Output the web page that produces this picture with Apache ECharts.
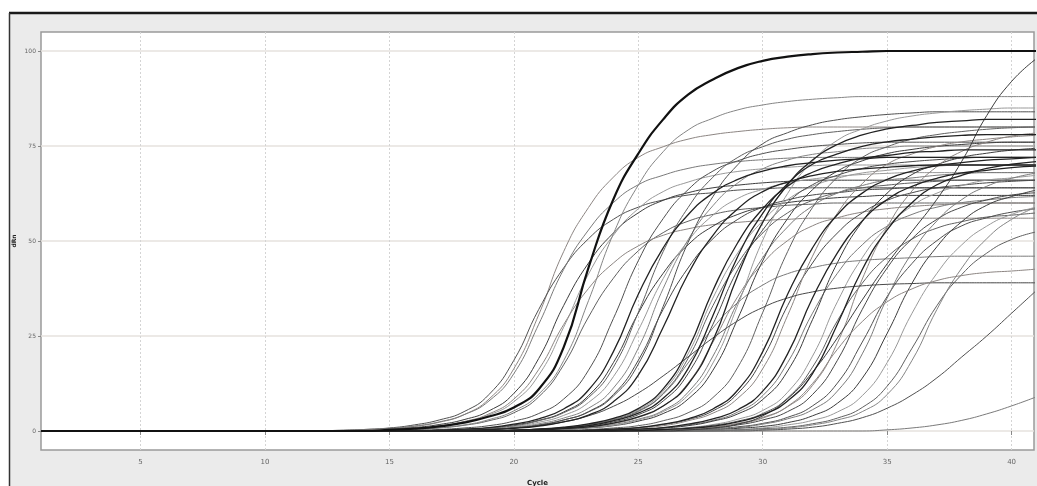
<!DOCTYPE html>
<html><head><meta charset="utf-8">
<script src="https://cdn.jsdelivr.net/npm/echarts@6/dist/echarts.min.js"></script>
<style>html,body{margin:0;padding:0;background:#fff}#c{width:1037px;height:486px}</style>
</head><body><div id="c"></div>
<script>
// ---- data ----
const cycles = [1,2,3,4,5,6,7,8,9,10,11,12,13,14,15,16,17,18,19,20,21,22,23,24,25,26,27,28,29,30,31,32,33,34,35,36,37,38,39,40,41];
const xTicks = [5,10,15,20,25,30,35,40];
const yTicks = [0,25,50,75,100];

const w01 = [0,0,0,0,0,0,0,0,0,0,0,0, 0.1,0.3,0.6,1.2,2.3,4.3,8.4,16.4,30.6,47.2,58.8,66.8,72,74.8,76.8,78,78.8,79.4,79.8,80, 80,80,80,80,80,80,80,80,80];
const w02 = [0,0,0,0,0,0,0,0,0,0,0,0, 0.2,0.4,0.8,1.6,2.9,5.1,9.6,18.6,32,42.9,50.6,55.7,58.9,60.8,62.1,62.7,63.4,63.7,64, 64,64,64,64,64,64,64,64,64,64];
const w03 = [0,0,0,0,0,0,0,0,0,0,0,0, 0.1,0.4,0.7,1.3,2.4,4.3,7.9,15.1,28.1,42.5,52.9,60.1,64.8,67.3,69.1,70.2,70.9,71.4,71.8,72, 72,72,72,72,72,72,72,72,72];
const w04 = [0,0,0,0,0,0,0,0,0,0,0,0,0, 0.2,0.5,0.9,1.7,3,5.3,9.9,19.1,33,44.2,52.1,57.4,60.7,62.7,64,64.7,65.3,65.7,66, 66,66,66,66,66,66,66,66,66];
const w05 = [0,0,0,0,0,0,0,0,0,0,0,0,0, 0.1,0.4,0.7,1.3,2.4,4.2,7.7,14.7,27.3,41.3,51.5,58.5,63,65.5,67.2,68.3,69,69.4,69.8,70, 70,70,70,70,70,70,70,70];
const w06 = [0,0,0,0,0,0,0,0,0,0,0,0,0,0, 0.2,0.4,0.8,1.5,2.7,4.8,9,17.4,30,40.2,47.4,52.2,55.2,57,58.2,58.8,59.4,59.7,60, 60,60,60,60,60,60,60,60];
const w07 = [0,0,0,0,0,0,0,0,0,0,0,0,0,0, 0.2,0.4,0.9,1.6,3,5.3,9.7,18.5,34.3,51.9,64.7,73.5,79.2,82.3,84.5,85.8,86.7,87.3,87.7,88, 88,88,88,88,88,88,88];
const w08 = [0,0,0,0,0,0,0,0,0,0,0,0,0,0, 0.3,0.6,1.2,2.2,3.8,6.2,11,22,43,61,73,82,88.5,92.5,95.5,97.4,98.5,99.2,99.6,99.8, 100,100,100,100,100,100,100];
const w09 = [0,0,0,0,0,0,0,0,0,0,0,0,0, 0.2,0.4,0.7,1.4,2.5,4.5,8.4,16.2,28,37.5,44.2,48.7,51.5,53.2,54.3,54.9,55.4,55.7,56, 56,56,56,56,56,56,56,56,56];
const w10 = [0,0,0,0,0,0,0,0,0,0,0,0,0,0,0, 0.2,0.4,0.8,1.4,2.6,4.6,8.4,16,29.6,44.8,55.9,63.5,68.4,71.1,73,74.1,74.9,75.4,75.8,76, 76,76,76,76,76,76];
const w11 = [0,0,0,0,0,0,0,0,0,0,0,0,0,0,0,0, 0.2,0.5,0.9,1.8,3.2,5.8,10.8,20.9,36,48.2,56.9,62.6,66.2,68.4,69.8,70.6,71.3,71.6,72, 72,72,72,72,72,72];
const w12 = [0,0,0,0,0,0,0,0,0,0,0,0,0,0,0,0, 0.2,0.4,0.8,1.6,2.8,5,9.3,18,31,41.5,49,53.9,57,58.9,60.1,60.8,61.4,61.7,62, 62,62,62,62,62,62];
const w13 = [0,0,0,0,0,0,0,0,0,0,0,0,0,0,0,0, 0.1,0.3,0.7,1.2,2.3,4.1,7.5,14.3,26.5,40.1,50,56.8,61.2,63.6,65.3,66.3,67,67.5,67.8,68, 68,68,68,68,68];
const w14 = [0,0,0,0,0,0,0,0,0,0,0,0,0,0,0,0, 0.2,0.4,0.8,1.4,2.7,4.8,8.8,16.8,31.2,47.2,58.8,66.8,72,74.8,76.8,78,78.8,79.4,79.8,80, 80,80,80,80,80];
const w15 = [0,0,0,0,0,0,0,0,0,0,0,0,0,0,0,0,0, 0.2,0.5,1,1.9,3.4,6,11.3,21.8,37.5,50.3,59.3,65.3,69,71.3,72.8,73.5,74.3,74.6,75, 75,75,75,75,75];
const w16 = [0,0,0,0,0,0,0,0,0,0,0,0,0,0,0,0,0, 0.2,0.4,0.8,1.6,2.9,5.1,9.6,18.6,32,42.9,50.6,55.7,58.9,60.8,62.1,62.7,63.4,63.7,64, 64,64,64,64,64];
const w17 = [0,0,0,0,0,0,0,0,0,0,0,0,0,0,0,0,0, 0.1,0.4,0.7,1.3,2.4,4.2,7.7,14.7,27.3,41.3,51.5,58.5,63,65.5,67.2,68.3,69,69.4,69.8,70, 70,70,70,70];
const w18 = [0,0,0,0,0,0,0,0,0,0,0,0,0,0,0,0,0, 0.2,0.4,0.8,1.5,2.9,5,9.2,17.6,32.8,49.6,61.7,70.1,75.6,78.5,80.6,81.9,82.7,83.3,83.7,84, 84,84,84,84];
const w19 = [0,0,0,0,0,0,0,0,0,0,0,0,0,0,0,0,0,0, 0.1,0.2,0.5,0.8,1.6,2.8,5.1,9.7,17.9,27.1,33.8,38.4,41.4,43,44.2,44.9,45.3,45.6,45.9,46, 46,46,46];
const w20 = [0,0,0,0,0,0,0,0,0,0,0,0,0,0,0,0,0,0,0, 0.2,0.5,1,1.9,3.3,5.9,11.1,21.5,37,49.6,58.5,64.4,68.1,70.3,71.8,72.5,73.3,73.6,74, 74,74,74];
const w21 = [0,0,0,0,0,0,0,0,0,0,0,0,0,0,0,0,0,0,0, 0.2,0.5,0.9,1.8,3.2,5.6,10.5,20.3,35,46.9,55.3,60.9,64.4,66.5,67.9,68.6,69.3,69.7,70, 70,70,70];
const w22 = [0,0,0,0,0,0,0,0,0,0,0,0,0,0,0,0,0,0,0, 0.2,0.5,0.9,1.7,3,5.3,9.9,19.1,33,44.2,52.1,57.4,60.7,62.7,64,64.7,65.3,65.7,66, 66,66,66];
const w23 = [0,0,0,0,0,0,0,0,0,0,0,0,0,0,0,0,0,0,0, 0.2,0.4,0.8,1.4,2.7,4.7,8.6,16.4,30.4,46,57.3,65.1,70.2,72.9,74.9,76.1,76.8,77.4,77.8,78, 78,78];
const w24 = [0,0,0,0,0,0,0,0,0,0,0,0,0,0,0,0,0,0,0, 0.1,0.4,0.7,1.3,2.4,4.3,7.9,15.1,28.1,42.5,52.9,60.1,64.8,67.3,69.1,70.2,70.9,71.4,71.8,72, 72,72];
const w25 = [0,0,0,0,0,0,0,0,0,0,0,0,0,0,0,0,0,0,0, 0.1,0.3,0.6,1.1,2,3.6,6.6,12.6,23.4,35.4,44.1,50.1,54,56.1,57.6,58.5,59.1,59.5,59.8,60, 60,60];
const w26 = [0,0,0,0,0,0,0,0,0,0,0,0,0,0,0,0,0,0,0,0, 0.2,0.6,1.1,2.1,3.7,6.6,12.3,23.8,41,54.9,64.8,71.3,75.4,77.9,79.5,80.4,81.2,81.6,82, 82,82];
const w27 = [0,0,0,0,0,0,0,0,0,0,0,0,0,0,0,0,0,0,0,0, 0.2,0.5,0.9,1.7,3.1,5.4,10.2,19.7,34,45.6,53.7,59.2,62.6,64.6,66,66.6,67.3,67.7,68, 68,68];
const w28 = [0,0,0,0,0,0,0,0,0,0,0,0,0,0,0,0,0,0,0,0, 0.2,0.4,0.8,1.4,2.6,4.6,8.4,16,29.6,44.8,55.9,63.5,68.4,71.1,73,74.1,74.9,75.4,75.8,76, 76];
const w29 = [0,0,0,0,0,0,0,0,0,0,0,0,0,0,0,0,0,0,0,0, 0.2,0.4,0.9,1.5,2.9,5.1,9.4,17.9,33.2,50.2,62.5,71,76.5,79.5,81.6,82.9,83.7,84.3,84.7,85, 85];
const w30 = [0,0,0,0,0,0,0,0,0,0,0,0,0,0,0,0,0,0,0,0,0, 0.2,0.4,0.8,1.4,2.7,4.8,8.8,16.8,31.2,47.2,58.8,66.8,72,74.8,76.8,78,78.8,79.4,79.8,80];
const w31 = [0,0,0,0,0,0,0,0,0,0,0,0,0,0,0,0,0,0,0,0,0,0, 0.2,0.5,0.9,1.8,3.2,5.8,10.8,20.9,36,48.2,56.9,62.6,66.2,68.4,69.8,70.6,71.3,71.6,72];
const w32 = [0,0,0,0,0,0,0,0,0,0,0,0,0,0,0,0,0,0,0,0,0,0, 0.2,0.5,0.9,1.7,3,5.3,9.9,19.1,33,44.2,52.1,57.4,60.7,62.7,64,64.7,65.3,65.7,66];
const w33 = [0,0,0,0,0,0,0,0,0,0,0,0,0,0,0,0,0,0,0,0,0,0, 0.2,0.4,0.8,1.4,2.7,4.7,8.6,16.4,30.4,46,57.3,65.1,70.2,72.9,74.9,76.1,76.8,77.4,77.8];
const w34 = [0,0,0,0,0,0,0,0,0,0,0,0,0,0,0,0,0,0,0,0,0,0,0, 0.2,0.5,0.9,1.8,3.2,5.6,10.5,20.3,35,46.9,55.3,60.9,64.4,66.5,67.9,68.6,69.3,69.7];
const w35 = [0,0,0,0,0,0,0,0,0,0,0,0,0,0,0,0,0,0,0,0,0,0,0, 0.2,0.4,0.8,1.6,2.8,5,9.3,18,31,41.5,49,53.9,57,58.9,60.1,60.8,61.4,61.7];
const w36 = [0,0,0,0,0,0,0,0,0,0,0,0,0,0,0,0,0,0,0,0,0,0,0, 0.2,0.4,0.8,1.4,2.6,4.5,8.3,15.8,29.3,44.3,55.1,62.6,67.5,70.1,72,73.1,73.9,74.4];
const w37 = [0,0,0,0,0,0,0,0,0,0,0,0,0,0,0,0,0,0,0,0,0,0,0,0, 0.2,0.5,0.9,1.7,3.1,5.4,10.2,19.7,34,45.6,53.7,59.2,62.6,64.6,66,66.6,67.3];
const w38 = [0,0,0,0,0,0,0,0,0,0,0,0,0,0,0,0,0,0,0,0,0,0,0,0, 0.2,0.4,0.8,1.5,2.6,4.6,8.7,16.8,29,38.9,45.8,50.5,53.4,55.1,56.3,56.8,57.4];
const w39 = [0,0,0,0,0,0,0,0,0,0,0,0,0,0,0,0,0,0,0,0,0,0,0,0, 0.1,0.4,0.7,1.3,2.4,4.3,7.9,15.1,28.1,42.5,52.9,60.1,64.8,67.3,69.1,70.2,70.9];
const w40 = [0,0,0,0,0,0,0,0,0,0,0,0,0,0,0,0,0,0,0,0,0,0,0,0,0, 0.2,0.4,0.8,1.6,2.9,5.1,9.6,18.6,32,42.9,50.6,55.7,58.9,60.8,62.1,62.7];
const w41 = [0,0,0,0,0,0,0,0,0,0,0,0,0,0,0,0,0,0,0,0,0,0,0,0,0, 0.2,0.6,1,2,3.6,6.4,12,23.2,40,53.6,63.2,69.6,73.6,76,77.6,78.4];
const w42 = [0,0,0,0,0,0,0,0,0,0,0,0,0,0,0,0,0,0,0,0,0,0,0,0,0, 0.1,0.3,0.6,1.1,2,3.6,6.6,12.6,23.4,35.4,44.1,50.1,54,56.1,57.6,58.5];
const w43 = [0,0,0,0,0,0,0,0,0,0,0,0,0,0,0,0,0,0,0,0,0,0,0,0,0,0, 0.2,0.5,0.9,1.8,3.2,5.6,10.5,20.3,35,46.9,55.3,60.9,64.4,66.5,67.9];
const w44 = [0,0,0,0,0,0,0,0,0,0,0,0,0,0,0,0,0,0,0,0,0,0,0,0,0,0, 0.1,0.3,0.7,1.2,2.2,4,7.3,13.9,25.7,38.9,48.5,55.1,59.4,61.7,63.4];
const w45 = [0,0,0,0,0,0,0,0,0,0,0,0,0,0,0,0,0,0,0,0,0,0,0,0,0,0,0, 0.2,0.4,0.8,1.6,2.8,5,9.3,18,31,41.5,49,53.9,57,58.9];
const w46 = [0,0,0,0,0,0,0,0,0,0,0,0,0,0,0,0,0,0,0,0,0,0,0,0,0,0,0, 0.1,0.3,0.6,1,1.9,3.4,6.2,11.8,21.8,33,41.2,46.8,50.4,52.4];
const w47 = [0,0,0,0,0,0,0,0,0,0,0,0,0,0,0,0,0,0,0,0,0,0,0,0,0,0,0,0, 0.2,0.4,0.8,1.6,2.9,5.1,9.6,18.6,32,42.9,50.6,55.7,58.9];
const w48 = [0,0,0,0,0,0,0,0,0,0,0,0,0,0,0,0,0, 0.2,0.4,0.8,1.4,2.4,4,6.5,10,14.5,19.5,24.5,29,32.5,35,36.6,37.6,38.2,38.6,38.8,39, 39,39,39,39];
const w49 = [0,0,0,0,0,0,0,0,0,0,0,0,0,0,0,0,0,0,0,0,0,0,0,0, 0.1,0.3,0.6,1.1,1.9,3.4,6.5,12.5,21.5,28.8,34,37.4,39.6,40.9,41.7,42.1,42.6];
const w50 = [0,0,0,0,0,0,0,0,0,0,0,0,0,0,0,0,0,0,0,0,0,0,0,0,0,0,0,0,0, 0.2,0.5,1,2,3.5,6,9.5,14,19.5,25,31,37];
const w51 = [0,0,0,0,0,0,0,0,0,0,0,0,0,0,0,0,0,0,0,0,0,0,0,0,0,0,0,0,0,0,0,0,0,0, 0.3,0.8,1.6,2.8,4.5,6.6,9];
const w52 = [0,0,0,0,0,0,0,0,0,0,0,0,0,0,0,0,0,0,0,0,0,0,0,0,0,0, 0.3,0.8,1.8,4,8.5,15.5,24.5,34.5,44,52.5,61,71,83,92,98];

const wells = [w01,w02,w03,w04,w05,w06,w07,w08,w09,w10,w11,w12,w13,w14,w15,w16,w17,w18,w19,w20,w21,w22,w23,w24,w25,w26,w27,w28,w29,w30,w31,w32,w33,w34,w35,w36,w37,w38,w39,w40,w41,w42,w43,w44,w45,w46,w47,w48,w49,w50,w51,w52];

// ---- styles ----
const palette = ['#8c8582','#505050','#7a7a7a','#3c3c3c','#999','#606060','#858585','#484848'];
const blackWells = [8,11,17,20,23,26,31,34,39];

const series = wells.map((w, i) => {
  const idx = i + 1;
  const isBold = idx === 8;
  const isBlack = blackWells.indexOf(idx) >= 0;
  return {
    type: 'line',
    name: 'Well ' + idx,
    data: cycles.map((c, k) => [c, w[k]]),
    showSymbol: false,
    smooth: 0.5,
    silent: true,
    z: isBold ? 5 : (isBlack ? 4 : 3),
    lineStyle: {
      color: isBold ? '#111' : (isBlack ? '#222' : palette[i % palette.length]),
      width: isBold ? 2.2 : (isBlack ? 1.3 : 1)
    }
  };
});

const chart = echarts.init(document.getElementById('c'), null, {renderer: 'canvas'});
chart.setOption({
  animation: false,
  backgroundColor: '#ffffff',
  graphic: [
    {type: 'rect', z: -100, silent: true, shape: {x: 9, y: 13, width: 1028, height: 473}, style: {fill: '#ebebeb'}},
    {type: 'line', z: -90, silent: true, shape: {x1: 9, y1: 13, x2: 1037, y2: 13}, style: {stroke: '#1a1a1a', lineWidth: 2.5}},
    {type: 'line', z: -90, silent: true, shape: {x1: 9.5, y1: 13, x2: 9.5, y2: 486}, style: {stroke: '#333', lineWidth: 1.5}}
  ],
  grid: {left: 41, right: 3, top: 32, bottom: 36, outerBoundsMode: 'none', containLabel: false, show: true, backgroundColor: '#ffffff', borderColor: '#9a9a9a', borderWidth: 1.5},
  xAxis: {
    type: 'value', min: 1, max: 40.9,
    name: 'Cycle', nameLocation: 'middle', nameGap: 30, nameMoveOverlap: false,
    nameTextStyle: {fontSize: 7, color: '#222', fontWeight: 'bold', fontFamily: 'DejaVu Sans'},
    axisLine: {show: false},
    axisTick: {show: true, length: 4, customValues: xTicks, lineStyle: {color: '#888'}},
    axisLabel: {customValues: xTicks, fontSize: 7, color: '#666', margin: 9, fontFamily: 'DejaVu Sans'},
    splitLine: {show: true, lineStyle: {color: '#d4d4d4', type: [2, 2], width: 1}}
  },
  yAxis: {
    type: 'value', min: -5, max: 105,
    name: 'dRn', nameLocation: 'middle', nameGap: 24, nameRotate: 90, nameMoveOverlap: false,
    nameTextStyle: {fontSize: 6, color: '#222', fontWeight: 'bold', fontFamily: 'DejaVu Sans'},
    axisLine: {show: false},
    axisTick: {show: true, length: 3, customValues: yTicks, lineStyle: {color: '#888'}},
    axisLabel: {customValues: yTicks, fontSize: 6, color: '#666', margin: 5, fontFamily: 'DejaVu Sans'},
    splitLine: {show: true, lineStyle: {color: '#e6e2de', width: 1.5}}
  },
  series: series
});
</script></body></html>
